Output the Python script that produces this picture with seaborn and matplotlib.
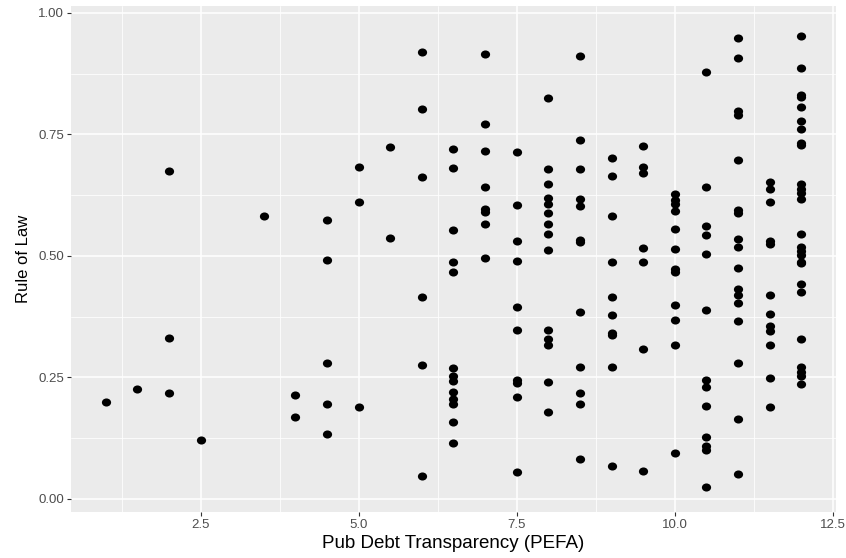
import matplotlib
matplotlib.use("Agg")
import matplotlib.pyplot as plt
from matplotlib.ticker import FixedLocator
from matplotlib.path import Path
from matplotlib.transforms import Affine2D
import seaborn as sns
import pandas as pd

# PEFA public debt transparency levels (x) and the Rule of Law values observed at each level (y)
pefa_levels = [1.0, 1.5, 2.0, 2.5, 3.5, 4.0, 4.5, 5.0, 5.5, 6.0, 6.5,
               7.0, 7.5, 8.0, 8.5, 9.0, 9.5, 10.0, 10.5, 11.0, 11.5, 12.0]

rule_of_law_by_level = [
    [0.200],                                                    # 1.0
    [0.226],                                                    # 1.5
    [0.675, 0.331, 0.217],                                      # 2.0
    [0.121],                                                    # 2.5
    [0.582],                                                    # 3.5
    [0.214, 0.169],                                             # 4.0
    [0.573, 0.491, 0.280, 0.195, 0.133],                        # 4.5
    [0.683, 0.610, 0.190],                                      # 5.0
    [0.724, 0.536],                                             # 5.5
    [0.920, 0.802, 0.663, 0.416, 0.276, 0.047],                 # 6.0
    [0.720, 0.681, 0.553, 0.488, 0.467, 0.270, 0.253, 0.242,
     0.220, 0.205, 0.195, 0.158, 0.115],                        # 6.5
    [0.915, 0.771, 0.716, 0.642, 0.596, 0.590, 0.565, 0.495],   # 7.0
    [0.714, 0.604, 0.531, 0.490, 0.394, 0.347, 0.245, 0.238,
     0.209, 0.056],                                             # 7.5
    [0.824, 0.679, 0.647, 0.620, 0.607, 0.588, 0.566, 0.545,
     0.513, 0.347, 0.329, 0.316, 0.240, 0.179],                 # 8.0
    [0.911, 0.738, 0.679, 0.617, 0.603, 0.533, 0.528, 0.384,
     0.272, 0.217, 0.196, 0.082],                               # 8.5
    [0.702, 0.665, 0.581, 0.488, 0.416, 0.379, 0.342, 0.338,
     0.271, 0.067],                                             # 9.0
    [0.725, 0.682, 0.670, 0.516, 0.487, 0.308, 0.058],          # 9.5
    [0.628, 0.615, 0.607, 0.593, 0.556, 0.514, 0.473, 0.466,
     0.398, 0.369, 0.317, 0.095],                               # 10.0
    [0.879, 0.641, 0.562, 0.543, 0.503, 0.389, 0.245, 0.231,
     0.192, 0.128, 0.109, 0.101, 0.025],                        # 10.5
    [0.949, 0.906, 0.798, 0.790, 0.697, 0.595, 0.589, 0.534,
     0.518, 0.474, 0.431, 0.420, 0.403, 0.365, 0.280, 0.165,
     0.051],                                                    # 11.0
    [0.652, 0.638, 0.611, 0.531, 0.524, 0.420, 0.380, 0.355,
     0.346, 0.317, 0.248, 0.189],                               # 11.5
    [0.952, 0.886, 0.831, 0.826, 0.806, 0.777, 0.761, 0.732,
     0.729, 0.647, 0.638, 0.630, 0.617, 0.545, 0.518, 0.509,
     0.501, 0.488, 0.485, 0.442, 0.426, 0.329, 0.271, 0.262,
     0.253, 0.236],                                             # 12.0
]

x_tick_values = [2.5, 5.0, 7.5, 10.0, 12.5]
x_tick_labels = ["2.5", "5.0", "7.5", "10.0", "12.5"]
y_tick_values = [0.00, 0.25, 0.50, 0.75, 1.00]
y_tick_labels = ["0.00", "0.25", "0.50", "0.75", "1.00"]
x_title = "Pub Debt Transparency (PEFA)"
y_title = "Rule of Law"

rows = []
for lvl, vals in zip(pefa_levels, rule_of_law_by_level):
    for v in vals:
        rows.append({"pefa": lvl, "rol": v})
df = pd.DataFrame(rows)

sns.set_theme(style="darkgrid", rc={
    "axes.facecolor": "#EBEBEB",
    "grid.color": "white",
    "axes.edgecolor": "#EBEBEB",
})
plt.rcParams["font.family"] = ["Liberation Sans", "DejaVu Sans"]

fig = plt.figure(figsize=(8.46, 5.58), dpi=100)
ax = fig.add_axes([71 / 846, 1 - 512 / 558, (836 - 71) / 846, (512 - 6) / 558])

# slightly wide dot, as in the reference rendering
wide_dot = Affine2D().scale(1.08, 0.95).transform_path(Path.unit_circle())

sns.scatterplot(data=df, x="pefa", y="rol", ax=ax, color="black",
                s=44, marker=wide_dot, edgecolor="black", linewidth=0, zorder=3)

ax.set_xlim(0.45, 12.55)
ax.set_ylim(-0.027, 1.014)

ax.xaxis.set_major_locator(FixedLocator(x_tick_values))
ax.set_xticklabels(x_tick_labels)
ax.yaxis.set_major_locator(FixedLocator(y_tick_values))
ax.set_yticklabels(y_tick_labels)
ax.xaxis.set_minor_locator(FixedLocator([1.25, 3.75, 6.25, 8.75, 11.25]))
ax.yaxis.set_minor_locator(FixedLocator([0.125, 0.375, 0.625, 0.875]))

ax.grid(which="major", color="white", linewidth=1.1)
ax.grid(which="minor", color="white", linewidth=0.55)
ax.set_axisbelow(True)
for sp in ax.spines.values():
    sp.set_visible(False)

ax.tick_params(axis="both", which="major", length=3, width=0.8, color="#333333",
               labelcolor="#4D4D4D", labelsize=9.5, pad=2, direction="out",
               bottom=True, left=True)
ax.tick_params(axis="both", which="minor", length=0)

ax.set_xlabel(x_title, fontsize=13.5, color="black", labelpad=3)
ax.set_ylabel(y_title, fontsize=12, color="black", labelpad=5)

fig.savefig("out.png", dpi=100)
